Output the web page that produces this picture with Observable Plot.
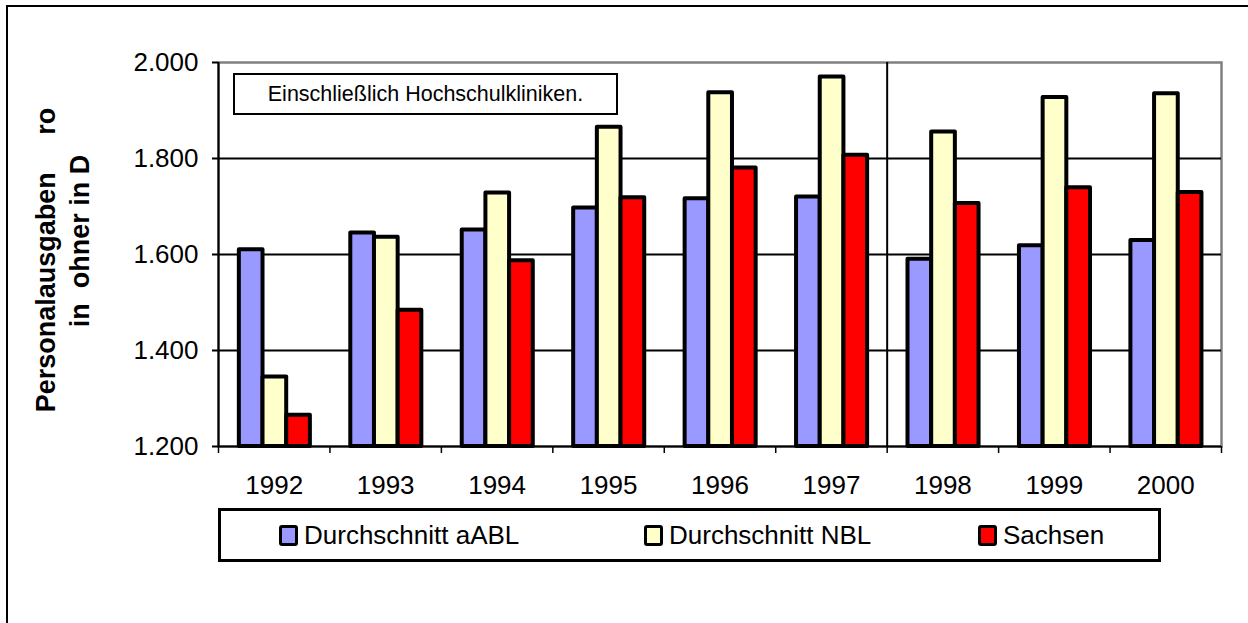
<!DOCTYPE html>
<html>
<head>
<meta charset="utf-8">
<script src="https://cdn.jsdelivr.net/npm/d3@7"></script>
<script src="https://cdn.jsdelivr.net/npm/@observablehq/plot@0.6"></script>
<style>
  html, body { margin: 0; padding: 0; background: #fff; overflow: hidden; }
  body { width: 1248px; height: 623px; position: relative; font-family: "Liberation Sans", Arial, sans-serif; }
  #chart { position: absolute; left: 0; top: 0; }
  #outer { position: absolute; left: 6px; top: 5px; width: 1300px; height: 640px; border-left: 2.5px solid #000; border-top: 2.5px solid #000; }
  .ylab { position: absolute; font-weight: bold; font-size: 27px; white-space: pre; transform: translate(-50%, -50%) rotate(-90deg); line-height: 1; }
  #note { position: absolute; left: 233px; top: 73px; width: 381px; height: 38px; border: 2px solid #000; font-size: 21.5px; display: flex; align-items: center; justify-content: center; background: #fff; }
  #legend { position: absolute; left: 218px; top: 508px; width: 937px; height: 48px; border: 3px solid #000; background: #fff; }
  .item { position: absolute; top: 0; height: 48px; display: flex; align-items: center; font-size: 26px; }
  .sw { width: 13px; height: 15px; border: 3px solid #000; border-radius: 3px; margin-right: 6px; }
</style>
</head>
<body>
<div id="outer"></div>
<div id="chart"></div>
<div class="ylab" style="left:46px; top:260px;">Personalausgaben     ro</div>
<div class="ylab" style="left:80px; top:241px;">in  ohner in D</div>
<div id="note">Einschließlich Hochschulkliniken.</div>
<div id="legend"></div>
<script>
const years = ["1992", "1993", "1994", "1995", "1996", "1997", "1998", "1999", "2000"];
const series = ["Durchschnitt aABL", "Durchschnitt NBL", "Sachsen"];
const aABL = [1610, 1645, 1651, 1697, 1716, 1720, 1590, 1618, 1629];
const nbl = [1345, 1636, 1728, 1865, 1937, 1970, 1855, 1927, 1935];
const sachsen = [1265, 1484, 1587, 1718, 1780, 1807, 1706, 1739, 1729];
const colors = ["#9999ff", "#ffffcc", "#ff0000"];
const yTicks = [1200, 1400, 1600, 1800, 2000];
const breakYear = "1998";

const values = [aABL, nbl, sachsen];
const rows = years.flatMap((yr, i) => values.map((v, s) => ({year: yr, i, s, series: series[s], value: v[i]})));

const pad = 0.187, bw = 0.2125;
const de = d3.formatLocale({decimal: ",", thousands: ".", grouping: [3], currency: ["", " €"]});
const fmt = de.format(",.0f");
const yMin = yTicks[0], yMax = yTicks[yTicks.length - 1];

const chart = Plot.plot({
  width: 1248,
  height: 623,
  marginLeft: 218,
  marginRight: 27,
  marginTop: 62,
  marginBottom: 177,
  style: {fontSize: "26px", fontFamily: "Liberation Sans, Arial, sans-serif", background: "transparent", color: "#000", overflow: "visible"},
  x: {type: "linear", domain: [0, years.length], label: null},
  y: {domain: [yMin, yMax], label: null},
  color: {domain: series, range: colors},
  marks: [
    Plot.frame({stroke: "#808080", strokeWidth: 2.5}),
    Plot.gridY({ticks: yTicks.slice(1, -1), stroke: "#000", strokeOpacity: 1, strokeWidth: 2}),
    Plot.ruleX([years.indexOf(breakYear)], {stroke: "#000", strokeWidth: 2}),
    Plot.ruleX([0], {stroke: "#000", strokeWidth: 2}),
    Plot.ruleY([yMin], {stroke: "#000", strokeWidth: 2}),
    Plot.axisY({ticks: yTicks, tickFormat: fmt, tickSize: 6, tickPadding: 14, strokeWidth: 2, label: null}),
    Plot.axisX({ticks: d3.range(years.length + 1), tickFormat: () => "", tickSize: 7, strokeWidth: 1.5, label: null}),
    Plot.axisX({ticks: years.map((y, i) => i + 0.5), tickFormat: d => years[Math.floor(d)], tickSize: 0, tickPadding: 29, label: null}),
    Plot.rect(rows, {
      x1: d => d.i + pad + d.s * bw,
      x2: d => d.i + pad + (d.s + 1) * bw,
      y1: yMin,
      y2: "value",
      fill: "series",
      stroke: "#000",
      strokeWidth: 4,
      strokeLinejoin: "round"
    })
  ]
});
document.getElementById("chart").appendChild(chart);

const legendLefts = [58, 423, 757];
const legend = document.getElementById("legend");
series.forEach((name, s) => {
  const item = document.createElement("div");
  item.className = "item";
  item.style.left = legendLefts[s] + "px";
  const sw = document.createElement("span");
  sw.className = "sw";
  sw.style.background = colors[s];
  const t = document.createElement("span");
  t.textContent = name;
  item.appendChild(sw);
  item.appendChild(t);
  legend.appendChild(item);
});
</script>
</body>
</html>
